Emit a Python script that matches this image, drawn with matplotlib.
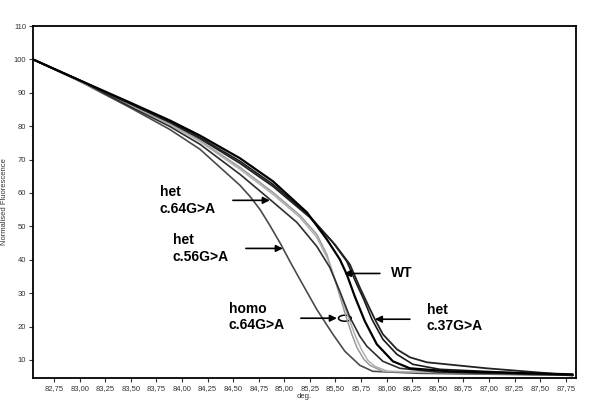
import matplotlib
matplotlib.use("Agg")
import matplotlib.pyplot as plt
from matplotlib.patches import Ellipse

# ---- data ----
het56_x = [82.545, 83.004, 83.492, 83.883, 84.176, 84.567, 84.664, 84.762, 84.859, 84.967, 85.055, 85.153, 85.318, 85.475, 85.592, 85.738, 85.865, 86.324, 87.106, 87.818]
het56_y = [100, 93.4, 85.6, 79.0, 73.1, 62.3, 59.0, 55.1, 50.3, 44.6, 39.5, 34.1, 25.1, 17.7, 12.6, 8.4, 6.6, 6.0, 5.7, 5.4]

homo64a_x = [82.545, 83.004, 83.492, 83.883, 84.176, 84.567, 84.889, 85.153, 85.318, 85.416, 85.494, 85.553, 85.602, 85.660, 85.709, 85.777, 85.836, 85.963, 86.324, 87.818]
homo64a_y = [100, 93.4, 86.5, 80.5, 75.7, 67.7, 60.2, 53.3, 47.6, 41.6, 34.1, 28.1, 23.1, 17.7, 13.8, 10.2, 8.4, 6.6, 6.3, 5.4]

homo64b_x = [82.545, 83.004, 83.492, 83.883, 84.176, 84.567, 84.889, 85.153, 85.318, 85.426, 85.514, 85.582, 85.641, 85.699, 85.758, 85.816, 85.885, 86.012, 87.818]
homo64b_y = [100, 93.4, 86.5, 80.5, 75.4, 67.1, 59.6, 52.7, 46.7, 40.1, 32.6, 26.6, 21.6, 16.8, 12.9, 9.9, 8.1, 6.6, 5.4]

het64_x = [82.545, 83.004, 83.492, 83.883, 84.176, 84.567, 84.859, 85.123, 85.318, 85.445, 85.543, 85.641, 85.738, 85.807, 85.963, 86.129, 86.520, 87.818]
het64_y = [100, 93.7, 85.9, 79.9, 74.6, 65.6, 58.1, 51.2, 44.0, 37.7, 30.5, 22.8, 17.1, 14.1, 9.6, 7.5, 6.3, 5.4]

wt1_x = [82.545, 83.004, 83.492, 83.883, 84.176, 84.567, 84.889, 85.221, 85.416, 85.543, 85.611, 85.689, 85.787, 85.904, 86.061, 86.227, 86.617, 87.818]
wt1_y = [100, 93.7, 87.1, 81.7, 77.2, 70.4, 63.5, 54.2, 46.1, 40.1, 35.6, 29.0, 21.6, 14.7, 9.6, 7.5, 6.6, 5.7]

wt2_x = [82.545, 83.004, 83.492, 83.883, 84.176, 84.567, 84.889, 85.250, 85.475, 85.611, 85.709, 85.777, 85.856, 85.963, 86.100, 86.256, 86.520, 87.818]
wt2_y = [100, 93.7, 86.8, 81.4, 76.6, 69.5, 62.6, 53.0, 45.2, 39.5, 32.6, 28.1, 22.2, 16.2, 11.7, 8.7, 7.2, 5.4]

het37_x = [82.545, 83.004, 83.492, 83.883, 84.176, 84.567, 84.889, 85.250, 85.494, 85.641, 85.738, 85.816, 85.885, 85.963, 86.100, 86.227, 86.393, 86.979, 87.467, 87.818]
het37_y = [100, 93.7, 86.8, 81.1, 76.3, 68.9, 62.0, 52.7, 44.6, 38.6, 31.7, 26.6, 22.2, 17.7, 13.2, 10.8, 9.3, 7.5, 6.3, 5.4]

x_ticks = [82.75, 83.00, 83.25, 83.50, 83.75, 84.00, 84.25, 84.50, 84.75, 85.00,
           85.25, 85.50, 85.75, 86.00, 86.25, 86.50, 86.75, 87.00, 87.25, 87.50, 87.75]
y_ticks = [10, 20, 30, 40, 50, 60, 70, 80, 90, 100, 110]

plt.rcParams['font.family'] = ['Liberation Sans', 'DejaVu Sans']

fig = plt.figure(figsize=(6.0, 4.09), dpi=100)
ax = fig.add_axes([0.055, 0.0758, 0.905, 0.8606])

kw = dict(solid_joinstyle='round', solid_capstyle='round')
ax.plot(het56_x, het56_y, color='#4a4a4a', lw=1.2, **kw)
ax.plot(homo64a_x, homo64a_y, color='#9a9a9a', lw=1.1, **kw)
ax.plot(homo64b_x, homo64b_y, color='#b0b0b0', lw=1.1, **kw)
ax.plot(het64_x, het64_y, color='#2e2e2e', lw=1.2, **kw)
ax.plot(wt2_x, wt2_y, color='#1a1a1a', lw=1.2, **kw)
ax.plot(het37_x, het37_y, color='#222222', lw=1.3, **kw)
ax.plot(wt1_x, wt1_y, color='#000000', lw=1.6, **kw)

ax.set_xlim(82.545, 87.85)
ax.set_ylim(4.6, 110)
ax.set_xticks(x_ticks)
ax.set_xticklabels([f"{t:.2f}".replace('.', ',') for t in x_ticks])
ax.set_yticks(y_ticks)
ax.tick_params(axis='both', labelsize=5.5, length=3, width=0.8, colors='#333333', pad=2)
for s in ax.spines.values():
    s.set_linewidth(1.3)
    s.set_color('black')

ax.set_ylabel('Normalised Fluorescence', fontsize=5.5, color='#333333', labelpad=4)
ax.set_xlabel('deg.', fontsize=5.5, color='#333333', labelpad=1)

tkw = dict(fontsize=10, fontweight='bold', color='black', ha='left', va='top', linespacing=1.2)
ax.text(83.785, 62.3, 'het\nc.64G>A', **tkw)
ax.text(83.912, 47.9, 'het\nc.56G>A', **tkw)
ax.text(84.459, 27.5, 'homo\nc.64G>A', **tkw)
ax.text(86.041, 35.9, 'WT', fontsize=10, fontweight='bold', color='black', ha='left', va='center')
ax.text(86.393, 27.2, 'het\nc.37G>A', **tkw)

akw = dict(arrowstyle='-|>', color='black', lw=1.2, mutation_scale=10, shrinkA=0, shrinkB=0)
ax.annotate('', xy=(84.859, 57.8), xytext=(84.498, 57.8), arrowprops=akw)
ax.annotate('', xy=(84.986, 43.4), xytext=(84.625, 43.4), arrowprops=akw)
ax.annotate('', xy=(85.582, 35.9), xytext=(85.934, 35.9), arrowprops=akw)
ax.annotate('', xy=(85.885, 22.2), xytext=(86.227, 22.2), arrowprops=akw)
ax.annotate('', xy=(85.514, 22.5), xytext=(85.162, 22.5), arrowprops=akw)
ax.add_patch(Ellipse((85.592, 22.5), 0.125, 1.8, fill=False, edgecolor='black', lw=1.1))

fig.savefig('out.png', dpi=100)
